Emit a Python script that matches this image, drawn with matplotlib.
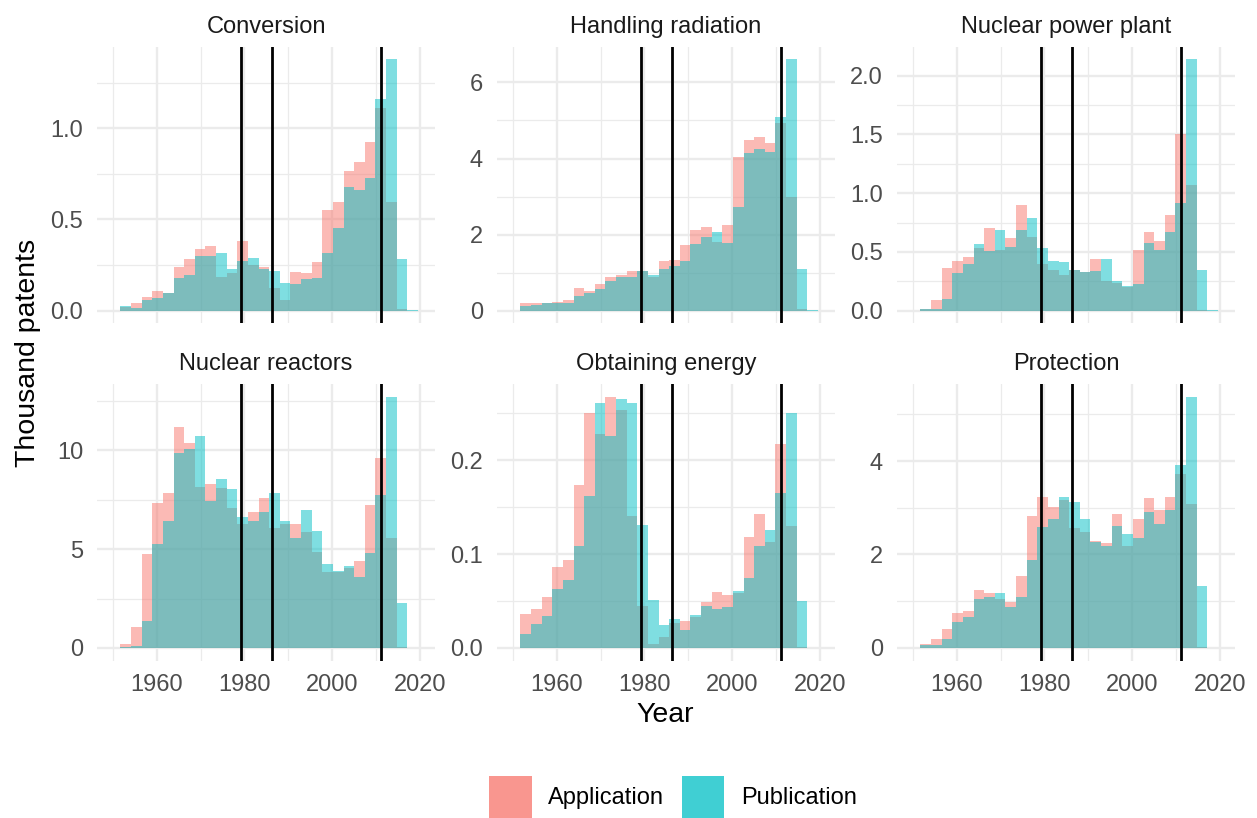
import numpy as np
import matplotlib
matplotlib.use("Agg")
import matplotlib.pyplot as plt
from matplotlib.patches import Patch

plt.rcParams['font.family'] = ['Liberation Sans', 'DejaVu Sans']

# histogram bins (years), shared by all facets
bin_start = 1951.75
bin_width = 2.42
n_bins = 28

panels = ["Conversion", "Handling radiation", "Nuclear power plant",
          "Nuclear reactors", "Obtaining energy", "Protection"]

# thousand patents per bin
conv_app = [0.02, 0.042, 0.075, 0.108, 0.095, 0.239, 0.283, 0.338, 0.354, 0.184, 0.206, 0.381, 0.25, 0.239,
            0.124, 0.058, 0.212, 0.206, 0.266, 0.551, 0.595, 0.765, 0.814, 0.923, 1.109, 0.595, 0.009, 0]
conv_pub = [0.026, 0.016, 0.058, 0.071, 0.097, 0.179, 0.195, 0.299, 0.299, 0.316, 0.228, 0.272, 0.288, 0.228,
            0.217, 0.151, 0.146, 0.173, 0.179, 0.316, 0.453, 0.677, 0.661, 0.728, 1.159, 1.378, 0.283, 0.004]

hand_app = [0.19, 0.19, 0.19, 0.23, 0.28, 0.60, 0.52, 0.70, 0.88, 0.94, 1.04, 1.04, 0.88, 1.30,
            1.33, 1.73, 2.12, 2.20, 1.80, 2.25, 4.04, 4.48, 4.56, 4.40, 4.93, 3.00, 0.04, 0]
hand_pub = [0.12, 0.14, 0.19, 0.19, 0.19, 0.39, 0.46, 0.57, 0.78, 0.88, 0.88, 1.04, 0.94, 1.09,
            1.17, 1.30, 1.75, 1.94, 2.07, 1.78, 2.72, 4.14, 4.25, 4.17, 5.09, 6.61, 1.09, 0.02]

plant_app = [0.01, 0.09, 0.36, 0.42, 0.46, 0.53, 0.70, 0.52, 0.62, 0.90, 0.63, 0.40, 0.35, 0.30,
             0.345, 0.33, 0.44, 0.25, 0.235, 0.20, 0.52, 0.67, 0.59, 0.81, 1.50, 1.07, 0.005, 0]
plant_pub = [0.014, 0.014, 0.10, 0.32, 0.40, 0.57, 0.51, 0.69, 0.54, 0.69, 0.79, 0.53, 0.42, 0.41,
             0.35, 0.33, 0.34, 0.44, 0.25, 0.21, 0.23, 0.58, 0.52, 0.67, 0.92, 2.14, 0.35, 0.005]

react_app = [0.19, 1.04, 4.73, 7.31, 7.82, 11.2, 10.39, 8.12, 8.32, 8.07, 7.06, 6.25, 6.86, 7.61,
             6.05, 6.25, 6.25, 5.85, 4.83, 3.82, 3.82, 4.03, 4.38, 7.21, 9.59, 5.54, 0.03, 0]
react_pub = [0.03, 0.12, 1.35, 5.24, 6.40, 9.84, 10.09, 10.70, 7.46, 8.57, 8.02, 6.65, 6.40, 6.86,
             7.82, 6.40, 5.54, 6.96, 5.90, 4.23, 3.87, 4.13, 3.57, 4.78, 7.72, 12.72, 2.26, 0.01]

energy_app = [0.036, 0.041, 0.054, 0.086, 0.094, 0.174, 0.251, 0.228, 0.268, 0.254, 0.141, 0.045, 0.004, 0.012,
              0.027, 0.029, 0.033, 0.049, 0.060, 0.056, 0.059, 0.118, 0.143, 0.113, 0.217, 0.13, 0.0005, 0]
energy_pub = [0.0146, 0.026, 0.034, 0.0625, 0.072, 0.109, 0.162, 0.261, 0.226, 0.265, 0.261, 0.131, 0.051, 0.024,
              0.0305, 0.019, 0.035, 0.045, 0.042, 0.044, 0.061, 0.075, 0.109, 0.126, 0.165, 0.25, 0.05, 0.0003]

prot_app = [0.08, 0.185, 0.40, 0.74, 0.80, 1.25, 1.17, 1.04, 0.975, 1.53, 2.83, 3.22, 3.01, 3.16,
            2.56, 2.49, 2.28, 2.24, 2.86, 2.19, 2.77, 3.20, 2.96, 3.24, 3.73, 3.09, 0.01, 0]
prot_pub = [0.057, 0.057, 0.185, 0.55, 0.655, 1.04, 1.10, 1.17, 0.87, 1.10, 1.89, 2.58, 2.75, 3.24,
            3.13, 2.75, 2.26, 2.19, 2.60, 2.43, 2.36, 2.90, 2.66, 2.96, 3.92, 5.38, 1.32, 0.005]

applications = [conv_app, hand_app, plant_app, react_app, energy_app, prot_app]
publications = [conv_pub, hand_pub, plant_pub, react_pub, energy_pub, prot_pub]

# Three Mile Island, Chernobyl, Fukushima
events = [1979.24, 1986.32, 2011.19]

y_step = [0.5, 2, 0.5, 5, 0.1, 2]
y_fmt = ["%.1f", "%d", "%.1f", "%d", "%.1f", "%d"]
x_major = [1960, 1980, 2000, 2020]
x_minor = [1950, 1970, 1990, 2010]

red = "#F8766D"
teal = "#00BFC4"
grid_col = "#EBEBEB"

W, H = 1257, 818
fig = plt.figure(figsize=(W / 100, H / 100), dpi=100)

col_left = [97, 497, 897]
col_w = 338
row_top = [46.7, 384]
row_h = 276.5

edges = bin_start + bin_width * np.arange(n_bins)

for i, name in enumerate(panels):
    r, c = divmod(i, 3)
    ax = fig.add_axes([col_left[c] / W, 1 - (row_top[r] + row_h) / H, col_w / W, row_h / H])
    app = np.array(applications[i])
    pub = np.array(publications[i])
    ax.bar(edges, app, width=bin_width, align='edge', color=red, alpha=0.5, linewidth=0, zorder=2)
    ax.bar(edges, pub, width=bin_width, align='edge', color=teal, alpha=0.5, linewidth=0, zorder=3)
    for e in events:
        ax.axvline(e, color="black", lw=2.0, zorder=4)

    top = max(app.max(), pub.max())
    ax.set_ylim(-0.05 * top, top * 1.05)
    ax.set_xlim(1946.4, 2023.4)

    step = y_step[i]
    major = np.arange(0, top * 1.05 + 1e-9, step)
    minor = np.arange(step / 2, top * 1.05, step)
    ax.set_yticks(major)
    ax.set_yticklabels([y_fmt[i] % v for v in major])
    ax.set_yticks(minor, minor=True)
    ax.set_xticks(x_major)
    ax.set_xticks(x_minor, minor=True)
    if r == 1:
        ax.set_xticklabels([str(v) for v in x_major])
    else:
        ax.set_xticklabels([])

    ax.grid(which='major', color=grid_col, lw=1.7, zorder=0)
    ax.grid(which='minor', color=grid_col, lw=0.9, zorder=0)
    ax.set_axisbelow(True)
    for s in ax.spines.values():
        s.set_visible(False)
    ax.tick_params(which='both', length=0, labelsize=17, labelcolor="#4D4D4D")
    ax.tick_params(axis='y', pad=10)
    ax.tick_params(axis='x', pad=10)
    ax.set_title(name, fontsize=17, color="#1A1A1A", pad=10)

fig.text(665.5 / W, 1 - 715 / H, "Year", fontsize=20.5, ha='center', va='center')
fig.text(28 / W, 1 - 353 / H, "Thousand patents", fontsize=20.5, ha='center', va='center', rotation=90)

handles = [Patch(facecolor="#F9968F", edgecolor='none', label="Application"),
           Patch(facecolor="#40CFD3", edgecolor='none', label="Publication")]
fig.legend(handles=handles, loc='center', bbox_to_anchor=(673 / W, 1 - 797 / H), ncol=2,
           frameon=False, fontsize=17, handlelength=1.8, handleheight=2.3,
           handletextpad=0.7, columnspacing=0.75)

fig.savefig("out.png", dpi=100)
